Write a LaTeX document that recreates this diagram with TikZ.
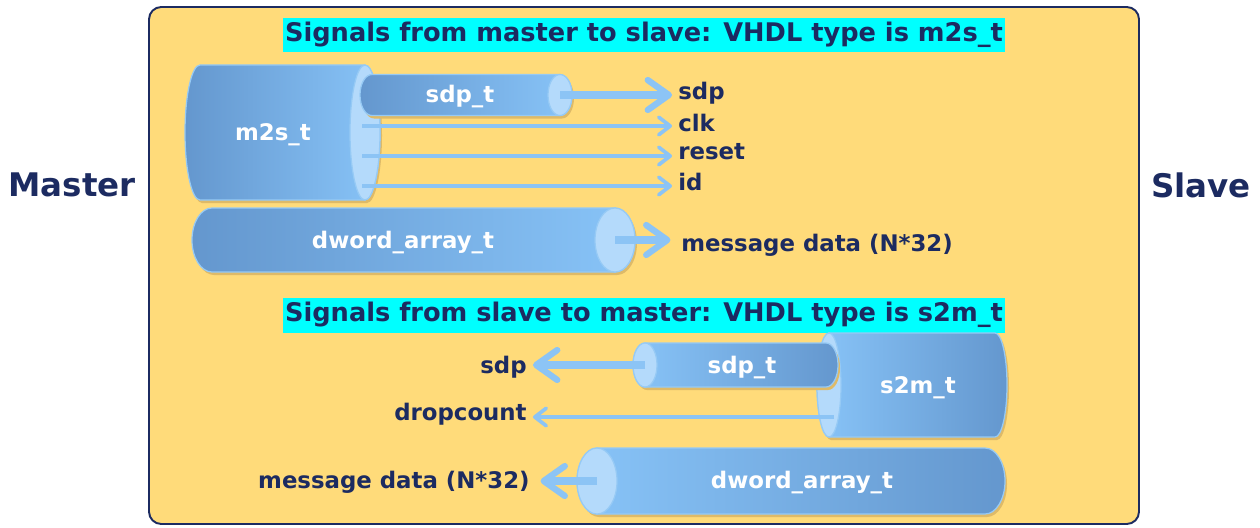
\documentclass[tikz,border=0pt]{standalone}
\usepackage{fontspec}
\setmainfont{DejaVu Sans}
\usepackage{tikz}
\usetikzlibrary{arrows.meta}
\usepackage{xcolor}
\definecolor{navytext}{RGB}{28,43,97}
\definecolor{panelfill}{RGB}{255,219,122}
\definecolor{titlecyan}{RGB}{0,255,255}
\definecolor{cyldark}{RGB}{100,151,206}
\definecolor{cyllight}{RGB}{136,196,248}
\definecolor{cylend}{RGB}{180,218,251}
\definecolor{cylrim}{RGB}{150,202,245}
\definecolor{cylshadow}{RGB}{222,186,104}
\definecolor{wireblue}{RGB}{140,196,245}
\newcommand{\sizetitle}{\fontsize{14.6}{18}\selectfont}
\newcommand{\sizeparty}{\fontsize{18.5}{22}\selectfont}
\newcommand{\sizesig}{\fontsize{13}{16}\selectfont}
% cylinder path: #1 left centre x, #2 right centre x, #3 centre y, #4 y radius, #5 x radius
\newcommand{\cylpath}[5]{(#1,#3-#4) -- (#2,#3-#4) arc[start angle=-90, end angle=90, x radius=#5, y radius=#4] -- (#1,#3+#4) arc[start angle=90, end angle=270, x radius=#5, y radius=#4] -- cycle}
% open end on the right (master side)
\newcommand{\cylright}[6]{%
  \fill[cylshadow, shift={(2,3)}] \cylpath{#2}{#3}{#4}{#5}{#6};
  \shadedraw[cylbody, left color=cyldark, right color=cyllight] \cylpath{#2}{#3}{#4}{#5}{#6};
  \draw[cylface] (#3,#4) ellipse [x radius=#6, y radius=#5];
  \coordinate (#1) at (#3,#4);
}
% open end on the left (slave side)
\newcommand{\cylleft}[6]{%
  \fill[cylshadow, shift={(2,3)}] \cylpath{#2}{#3}{#4}{#5}{#6};
  \shadedraw[cylbody, left color=cyllight, right color=cyldark] \cylpath{#2}{#3}{#4}{#5}{#6};
  \draw[cylface] (#2,#4) ellipse [x radius=#6, y radius=#5];
  \coordinate (#1) at (#2,#4);
}
\tikzset{
    panel/.style={draw=navytext, line width=1.1pt, fill=panelfill, rounded corners=7pt},
    party/.style={text=navytext, font=\bfseries\sizeparty},
    heading/.style={fill=titlecyan, text=navytext, font=\bfseries\sizetitle, minimum width=14.44cm, minimum height=0.7cm, inner sep=0pt},
    cylbody/.style={draw=cylrim, line width=0.7pt},
    cylface/.style={draw=cylrim, line width=0.7pt, fill=cylend},
    cyltext/.style={text=white, font=\bfseries\sizesig},
    signame/.style={text=navytext, font=\bfseries\sizesig, inner sep=0pt},
    wire-fat/.style={draw=wireblue, line width=4pt, -{Straight Barb[length=12pt, width=17pt, line width=3.6pt, round]}, shorten >=3.4pt},
    wire-thin/.style={draw=wireblue, line width=2.2pt, -{Straight Barb[length=6.5pt, width=10pt, line width=2.1pt, round]}, shorten >=3.4pt},
}
\begin{document}
\begin{tikzpicture}[x=0.02cm, y=-0.02cm]
    \useasboundingbox (0,0) rectangle (1260,527);
    \draw[panel] (149,7) rectangle (1139,524);

    \node[party] (master) at (72,185) {Master};
    \node[party] (slave) at (1201,185) {Slave};
    \node[heading] (head-m2s) at (644,35) {Signals from master to slave: VHDL type is m2s\_t};
    \node[heading] (head-s2m) at (644,315) {Signals from slave to master: VHDL type is s2m\_t};

    % master to slave
    \cylright{m2s-face}{200}{365}{132.5}{67.5}{15}
    \cylright{sdp-m2s-face}{372}{560}{95}{20.5}{12}
    \cylright{dword-m2s-face}{212}{615}{240}{32}{20}
    \node[cyltext] (m2s) at (273,135) {m2s\_t};
    \node[cyltext] (sdp-m2s) at (460,97) {sdp\_t};
    \node[cyltext] (dword-m2s) at (403,243) {dword\_array\_t};

    \coordinate (m2s-clk) at (362,126);
    \coordinate (m2s-reset) at (362,156);
    \coordinate (m2s-id) at (362,186);

    \node[signame, anchor=west] (out-sdp) at (678,93) {sdp};
    \node[signame, anchor=west] (out-clk) at (678,123) {clk};
    \node[signame, anchor=west] (out-reset) at (678,152) {reset};
    \node[signame, anchor=west] (out-id) at (678,182) {id};
    \node[signame, anchor=west] (out-msg) at (681,245) {message data (N*32)};

    \draw[wire-fat] (sdp-m2s-face) -- (sdp-m2s-face -| out-sdp.west);
    \draw[wire-thin] (m2s-clk) -- (m2s-clk -| out-clk.west);
    \draw[wire-thin] (m2s-reset) -- (m2s-reset -| out-reset.west);
    \draw[wire-thin] (m2s-id) -- (m2s-id -| out-id.west);
    \draw[wire-fat, shorten >=6pt] (dword-m2s-face) -- (dword-m2s-face -| out-msg.west);

    % slave to master
    \cylleft{s2m-face}{829}{995}{385}{52}{12}
    \cylleft{sdp-s2m-face}{645}{826}{365}{22}{12}
    \cylleft{dword-s2m-face}{597}{985}{481}{33}{20}
    \node[cyltext] (s2m) at (918,388) {s2m\_t};
    \node[cyltext] (sdp-s2m) at (742,368) {sdp\_t};
    \node[cyltext] (dword-s2m) at (802,483) {dword\_array\_t};

    \coordinate (s2m-drop) at (834,417);

    \node[signame, anchor=east] (in-sdp) at (527,367) {sdp};
    \node[signame, anchor=east] (in-drop) at (527,414) {dropcount};
    \node[signame, anchor=east] (in-msg) at (530,482) {message data (N*32)};

    \draw[wire-fat] (sdp-s2m-face) -- (sdp-s2m-face -| in-sdp.east);
    \draw[wire-thin] (s2m-drop) -- (s2m-drop -| in-drop.east);
    \draw[wire-fat, shorten >=6pt] (dword-s2m-face) -- (dword-s2m-face -| in-msg.east);
\end{tikzpicture}
\end{document}
